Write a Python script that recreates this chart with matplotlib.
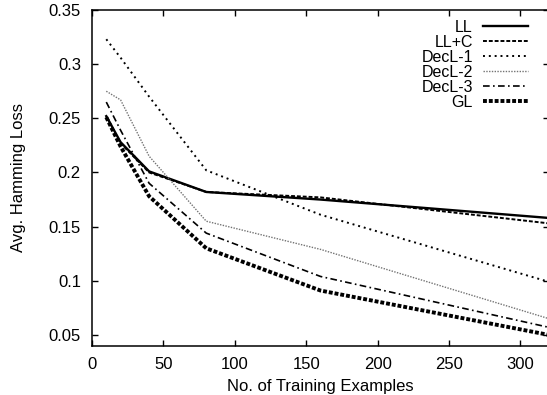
import matplotlib
matplotlib.use("Agg")
import matplotlib.pyplot as plt

plt.rcParams['font.family'] = ['Liberation Sans', 'DejaVu Sans']
plt.rcParams['font.size'] = 12

# Data
examples = [10, 20, 40, 80, 160, 320]
ll = [0.252, 0.228, 0.201, 0.182, 0.175, 0.158]
ll_c = [0.251, 0.227, 0.200, 0.182, 0.177, 0.153]
decl1 = [0.323, 0.306, 0.270, 0.202, 0.161, 0.099]
decl2 = [0.275, 0.267, 0.215, 0.155, 0.129, 0.065]
decl3 = [0.265, 0.239, 0.190, 0.144, 0.104, 0.057]
gl = [0.251, 0.224, 0.178, 0.130, 0.091, 0.050]

xticks = [0, 50, 100, 150, 200, 250, 300]
yticks = [0.05, 0.1, 0.15, 0.2, 0.25, 0.3, 0.35]
ytick_labels = ["0.05", "0.1", "0.15", "0.2", "0.25", "0.3", "0.35"]

fig = plt.figure(figsize=(5.47, 3.95), dpi=100)
ax = fig.add_axes([0.1682, 0.1246, 0.8355, 0.8501])

ax.plot(examples, ll, color="black", lw=1.7, label="LL")
ax.plot(examples, ll_c, color="black", lw=1.4, dashes=(2, 1), label="LL+C")
ax.plot(examples, decl1, color="black", lw=1.4, dashes=(1, 2), label="DecL-1")
ax.plot(examples, decl2, color="0.45", lw=1.0, dashes=(1, 1), label="DecL-2")
ax.plot(examples, decl3, color="black", lw=1.2, dashes=(4, 2, 1, 2), label="DecL-3")
ax.plot(examples, gl, color="black", lw=2.8, dashes=(1, 0.5), label="GL")

ax.set_xlim(0, 320)
ax.set_ylim(0.04, 0.35)
ax.set_xticks(xticks)
ax.set_yticks(yticks)
ax.set_yticklabels(ytick_labels)
ax.tick_params(direction="in", top=True, right=True, length=4, width=1, pad=8)
for s in ax.spines.values():
    s.set_linewidth(1.1)

ax.set_xlabel("No. of Training Examples", labelpad=5)
ax.set_ylabel("Avg. Hamming Loss", labelpad=16)

ax.legend(loc="upper right", frameon=False, markerfirst=False, handlelength=2.8,
          handletextpad=0.65, labelspacing=0.0, borderaxespad=0.2,
          bbox_to_anchor=(0.975, 1.0), fontsize=11.5)

fig.savefig("out.png", dpi=100)
